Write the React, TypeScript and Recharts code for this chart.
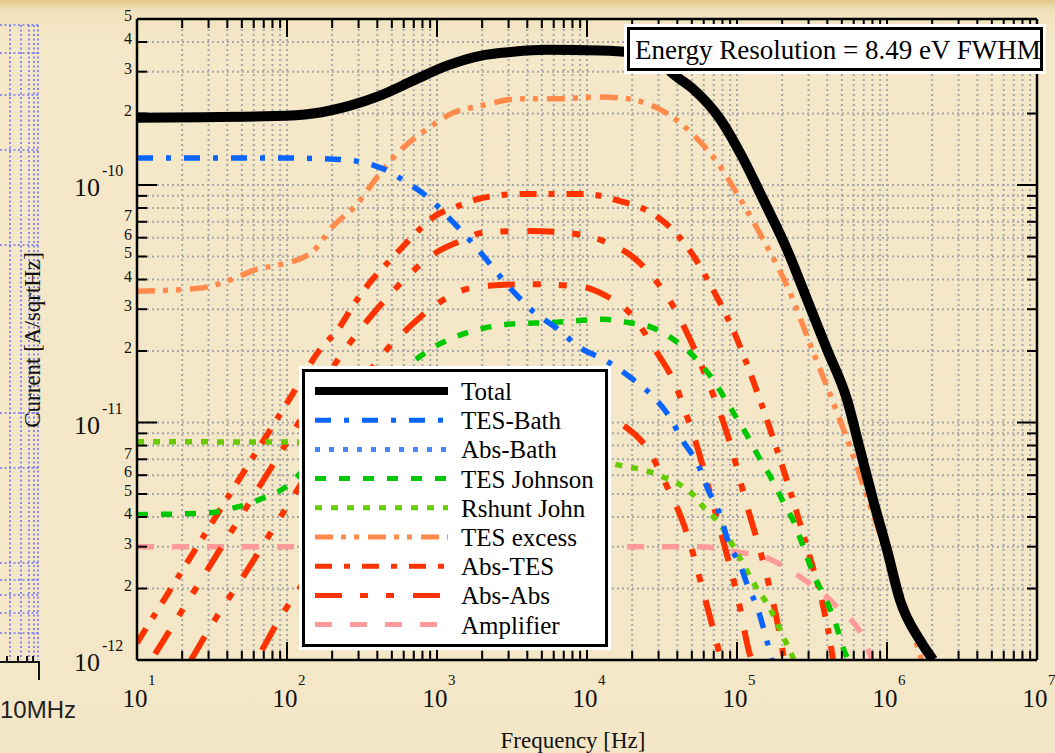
import React from "react";
import { CartesianGrid, Line, LineChart, XAxis, YAxis } from "recharts";

type Pt = { f: number; v: number };

// current noise [A/sqrtHz] against frequency [Hz]
const total: Pt[] = [
  { f: 10, v: 1.92e-10 }, { f: 83, v: 1.95e-10 }, { f: 149, v: 2.0e-10 },
  { f: 263, v: 2.16e-10 }, { f: 417, v: 2.38e-10 }, { f: 692, v: 2.75e-10 },
  { f: 1166, v: 3.18e-10 }, { f: 1936, v: 3.5e-10 }, { f: 3210, v: 3.64e-10 },
  { f: 5410, v: 3.71e-10 }, { f: 12200, v: 3.68e-10 }, { f: 19400, v: 3.61e-10 },
  { f: 30700, v: 3.3e-10 }, { f: 37400, v: 2.94e-10 }, { f: 50900, v: 2.54e-10 },
  { f: 77000, v: 1.9e-10 }, { f: 110000, v: 1.29e-10 }, { f: 149000, v: 8.73e-11 },
  { f: 215000, v: 5.37e-11 }, { f: 293000, v: 3.3e-11 }, { f: 398000, v: 2.03e-11 },
  { f: 541000, v: 1.25e-11 }, { f: 661000, v: 7.69e-12 }, { f: 807000, v: 4.73e-12 },
  { f: 1.0e6, v: 2.91e-12 }, { f: 1.22e6, v: 1.79e-12 }, { f: 1.66e6, v: 1.21e-12 },
  { f: 2.03e6, v: 1.0e-12 },
];

const tesBath: Pt[] = [
  { f: 10, v: 1.3e-10 }, { f: 90, v: 1.3e-10 }, { f: 226, v: 1.28e-10 },
  { f: 437, v: 1.17e-10 }, { f: 621, v: 1.03e-10 }, { f: 898, v: 8.73e-11 },
  { f: 1278, v: 6.98e-11 }, { f: 1793, v: 5.53e-11 }, { f: 3162, v: 3.61e-11 },
  { f: 4365, v: 2.94e-11 }, { f: 6310, v: 2.49e-11 }, { f: 8980, v: 2.07e-11 },
  { f: 13200, v: 1.83e-11 }, { f: 19400, v: 1.55e-11 }, { f: 27100, v: 1.3e-11 },
  { f: 35700, v: 1.05e-11 }, { f: 43000, v: 8.48e-12 }, { f: 55800, v: 6.52e-12 },
  { f: 64100, v: 5.22e-12 }, { f: 77000, v: 4.09e-12 }, { f: 89800, v: 3.0e-12 },
  { f: 103000, v: 2.59e-12 }, { f: 118000, v: 2.05e-12 }, { f: 138000, v: 1.63e-12 },
  { f: 158000, v: 1.21e-12 }, { f: 171000, v: 1.0e-12 },
];

// stays below the plotted range
const absBath: Pt[] = [];

const tesJohnson: Pt[] = [
  { f: 10, v: 4.09e-12 }, { f: 30.7, v: 4.17e-12 }, { f: 45, v: 4.38e-12 },
  { f: 65, v: 4.73e-12 }, { f: 92.6, v: 5.22e-12 }, { f: 166, v: 7.47e-12 },
  { f: 307, v: 1.1e-11 }, { f: 681, v: 1.79e-11 }, { f: 970, v: 2.09e-11 },
  { f: 1468, v: 2.35e-11 }, { f: 2027, v: 2.49e-11 }, { f: 2972, v: 2.59e-11 },
  { f: 6120, v: 2.64e-11 }, { f: 12800, v: 2.72e-11 }, { f: 18500, v: 2.64e-11 },
  { f: 26700, v: 2.52e-11 }, { f: 39200, v: 2.2e-11 }, { f: 54100, v: 1.84e-11 },
  { f: 72400, v: 1.45e-11 }, { f: 89800, v: 1.16e-11 }, { f: 113000, v: 9.16e-12 },
  { f: 138000, v: 7.26e-12 }, { f: 171000, v: 5.75e-12 }, { f: 203000, v: 4.64e-12 },
  { f: 244000, v: 3.71e-12 }, { f: 284000, v: 2.86e-12 }, { f: 331000, v: 2.22e-12 },
  { f: 386000, v: 1.83e-12 }, { f: 450000, v: 1.45e-12 }, { f: 517000, v: 1.1e-12 },
  { f: 550000, v: 1.0e-12 },
];

const rshuntJohn: Pt[] = [
  { f: 10, v: 8.3e-12 }, { f: 1220, v: 8.2e-12 }, { f: 4860, v: 7.6e-12 },
  { f: 16600, v: 6.6e-12 }, { f: 26300, v: 6.2e-12 }, { f: 33100, v: 5.85e-12 },
  { f: 41700, v: 5.47e-12 }, { f: 50900, v: 4.97e-12 }, { f: 60300, v: 4.38e-12 },
  { f: 74700, v: 3.82e-12 }, { f: 100000, v: 2.83e-12 }, { f: 128000, v: 2.13e-12 },
  { f: 169000, v: 1.61e-12 }, { f: 209000, v: 1.21e-12 }, { f: 240000, v: 1.0e-12 },
];

const tesExcess: Pt[] = [
  { f: 10, v: 3.57e-11 }, { f: 26.3, v: 3.68e-11 }, { f: 43, v: 4.01e-11 },
  { f: 63, v: 4.42e-11 }, { f: 92.6, v: 4.64e-11 }, { f: 147, v: 5.22e-11 },
  { f: 203, v: 6.71e-11 }, { f: 293, v: 8.31e-11 }, { f: 404, v: 1.09e-10 },
  { f: 584, v: 1.42e-10 }, { f: 858, v: 1.72e-10 }, { f: 1318, v: 2.03e-10 },
  { f: 1936, v: 2.15e-10 }, { f: 3574, v: 2.31e-10 }, { f: 6607, v: 2.31e-10 },
  { f: 12200, v: 2.35e-10 }, { f: 18500, v: 2.31e-10 }, { f: 27500, v: 2.15e-10 },
  { f: 34700, v: 1.99e-10 }, { f: 50900, v: 1.63e-10 }, { f: 73600, v: 1.25e-10 },
  { f: 105000, v: 8.73e-11 }, { f: 149000, v: 5.92e-11 }, { f: 225000, v: 3.54e-11 },
  { f: 311000, v: 2.09e-11 }, { f: 430000, v: 1.25e-11 }, { f: 575000, v: 7.69e-12 },
  { f: 771000, v: 4.47e-12 }, { f: 1.03e6, v: 2.64e-12 }, { f: 1.36e6, v: 1.59e-12 },
  { f: 1.66e6, v: 1.05e-12 }, { f: 1.7e6, v: 1.0e-12 },
];

const absTes: Pt[] = [
  { f: 10, v: 1.18e-12 }, { f: 16.6, v: 1.97e-12 }, { f: 41.7, v: 5.01e-12 },
  { f: 105, v: 1.27e-11 }, { f: 166, v: 2.03e-11 }, { f: 219, v: 2.47e-11 },
  { f: 280, v: 3.15e-11 }, { f: 363, v: 3.94e-11 }, { f: 494, v: 4.87e-11 },
  { f: 661, v: 5.92e-11 }, { f: 970, v: 7.4e-11 }, { f: 1380, v: 8.15e-11 },
  { f: 1876, v: 8.73e-11 }, { f: 3574, v: 9.16e-11 }, { f: 9700, v: 9.16e-11 },
  { f: 16600, v: 8.56e-11 }, { f: 26300, v: 7.69e-11 }, { f: 37400, v: 6.46e-11 },
  { f: 50900, v: 5.07e-11 }, { f: 66100, v: 3.82e-11 }, { f: 97000, v: 2.35e-11 },
  { f: 142000, v: 1.25e-11 }, { f: 209000, v: 6.03e-12 }, { f: 288000, v: 3.09e-12 },
  { f: 386000, v: 1.55e-12 }, { f: 417000, v: 1.21e-12 }, { f: 437000, v: 1.0e-12 },
];

const absAbsA: Pt[] = [
  { f: 13.2, v: 1.06e-12 }, { f: 19.3, v: 1.56e-12 }, { f: 34.7, v: 2.83e-12 },
  { f: 52.5, v: 4.3e-12 }, { f: 89.8, v: 7.4e-12 }, { f: 244, v: 2.03e-11 },
  { f: 357, v: 2.77e-11 }, { f: 494, v: 3.5e-11 }, { f: 681, v: 4.3e-11 },
  { f: 1000, v: 5.22e-11 }, { f: 1422, v: 5.8e-11 }, { f: 2123, v: 6.34e-11 },
  { f: 4169, v: 6.4e-11 }, { f: 9700, v: 6.15e-11 }, { f: 14200, v: 5.64e-11 },
  { f: 20300, v: 4.97e-11 }, { f: 27500, v: 4.09e-11 }, { f: 36900, v: 3.15e-11 },
  { f: 48600, v: 2.24e-11 }, { f: 62100, v: 1.56e-11 }, { f: 88400, v: 8.48e-12 },
  { f: 115000, v: 4.6e-12 }, { f: 156000, v: 2.33e-12 }, { f: 196000, v: 1.21e-12 },
  { f: 206000, v: 1.0e-12 },
];

const absAbsB: Pt[] = [
  { f: 22.9, v: 1.0e-12 }, { f: 31.6, v: 1.41e-12 }, { f: 56.7, v: 2.49e-12 },
  { f: 89.8, v: 3.97e-12 }, { f: 194, v: 8.65e-12 }, { f: 417, v: 1.88e-11 },
  { f: 631, v: 2.47e-11 }, { f: 955, v: 3.09e-11 }, { f: 1422, v: 3.57e-11 },
  { f: 1995, v: 3.75e-11 }, { f: 4169, v: 3.82e-11 }, { f: 8710, v: 3.75e-11 },
  { f: 13200, v: 3.43e-11 }, { f: 19600, v: 2.86e-11 }, { f: 28400, v: 2.03e-11 },
  { f: 39200, v: 1.42e-11 }, { f: 45700, v: 1.09e-11 }, { f: 55000, v: 7.69e-12 },
  { f: 64100, v: 5.42e-12 }, { f: 83200, v: 2.97e-12 }, { f: 102000, v: 1.79e-12 },
  { f: 122000, v: 1.05e-12 }, { f: 125000, v: 1.0e-12 },
];

const absAbsC: Pt[] = [
  { f: 68.1, v: 1.1e-12 }, { f: 92.6, v: 1.55e-12 }, { f: 122, v: 2.01e-12 },
  { f: 771, v: 1.03e-11 }, { f: 2630, v: 1.13e-11 }, { f: 8970, v: 1.11e-11 },
  { f: 13200, v: 1.05e-11 }, { f: 17900, v: 9.62e-12 }, { f: 25500, v: 7.69e-12 },
  { f: 34200, v: 5.37e-12 }, { f: 43700, v: 3.79e-12 }, { f: 50100, v: 2.91e-12 },
  { f: 58400, v: 2.03e-12 }, { f: 68100, v: 1.41e-12 }, { f: 75900, v: 1.08e-12 },
  { f: 78000, v: 1.0e-12 },
];

const amplifier: Pt[] = [
  { f: 10, v: 3.0e-12 }, { f: 56700, v: 3.0e-12 }, { f: 97000, v: 2.86e-12 },
  { f: 158000, v: 2.69e-12 }, { f: 263000, v: 2.24e-12 }, { f: 457000, v: 1.69e-12 },
  { f: 736000, v: 1.14e-12 }, { f: 790000, v: 1.0e-12 },
];

const X_DECADES = [1, 2, 3, 4, 5, 6];
const Y_DECADES = [-12, -11, -10];
const MANTISSAS = [1, 2, 3, 4, 5, 6, 7, 8, 9];
const X_TICKS = [...X_DECADES.flatMap((d) => MANTISSAS.map((m) => m * 10 ** d)), 1e7];
const Y_TICKS = Y_DECADES.flatMap((d) => MANTISSAS.map((m) => m * 10 ** d)).filter(
  (v) => v <= 5.0001e-10
);

const SERIF = '"Liberation Serif", "Times New Roman", serif';

const SERIES = [
  { name: "Total", data: total, color: "#000000", width: 10, dash: undefined },
  { name: "TES-Bath", data: tesBath, color: "#0a64ff", width: 5.5, dash: "16 13 5 13" },
  { name: "Abs-Bath", data: absBath, color: "#4a86ff", width: 5.5, dash: "5 9" },
  { name: "TES Johnson", data: tesJohnson, color: "#00c800", width: 5.5, dash: "11 13" },
  { name: "Rshunt John", data: rshuntJohn, color: "#66cc00", width: 5.5, dash: "7 9" },
  { name: "TES excess", data: tesExcess, color: "#ff8a4c", width: 5.5, dash: "18 8 5 8 5 9" },
  { name: "Abs-TES", data: absTes, color: "#ff3300", width: 6, dash: "17 12 6 12" },
  { name: "Abs-Abs", data: absAbsA, color: "#ff3300", width: 6, dash: "27 18 8 18 8 19" },
  { name: "Amplifier", data: amplifier, color: "#ff9a9a", width: 5.5, dash: "17 18" },
];

// the other absorber curves share the Abs-Abs style and legend entry
const EXTRA_ABS = [absAbsB, absAbsC];

function decade(v: number) {
  const e = Math.floor(Math.log10(v) + 1e-9);
  return { e, m: Math.round(v / 10 ** e) };
}

function BottomTick({ x, y, payload }: any) {
  const { e, m } = decade(payload.value);
  const major = m === 1;
  return (
    <g>
      <line x1={x} x2={x} y1={y} y2={y - (major ? 18 : 9)} stroke="#000" strokeWidth={2} />
      {major && (
        <>
          <text x={x - 2} y={y + 47} textAnchor="middle" fontSize={25} fontFamily={SERIF} fill="#111">
            10
          </text>
          <text x={x + 11} y={y + 25} fontSize={15} fontFamily={SERIF} fill="#111">
            {e}
          </text>
        </>
      )}
    </g>
  );
}

function TopTick({ x, y, payload }: any) {
  const { m } = decade(payload.value);
  return <line x1={x} x2={x} y1={y} y2={y + (m === 1 ? 18 : 9)} stroke="#000" strokeWidth={2} />;
}

function LeftTick({ x, y, payload }: any) {
  const { e, m } = decade(payload.value);
  const major = m === 1;
  return (
    <g>
      <line x1={x} x2={x + (major ? 20 : 10)} y1={y} y2={y} stroke="#000" strokeWidth={2} />
      {major ? (
        <>
          <text x={x - 37} y={y + 11} textAnchor="end" fontSize={26} fontFamily={SERIF} fill="#111">
            10
          </text>
          <text x={x - 35} y={y - 9} fontSize={16} fontFamily={SERIF} fill="#111">
            {e}
          </text>
        </>
      ) : m <= 7 ? (
        <text
          x={x - 5}
          y={y + (m === 7 ? -0.5 : 2)}
          textAnchor="end"
          fontSize={16}
          fontFamily={SERIF}
          fill="#111"
        >
          {m}
        </text>
      ) : null}
    </g>
  );
}

function RightTick({ x, y, payload }: any) {
  const { m } = decade(payload.value);
  return <line x1={x} x2={x - (m === 1 ? 20 : 10)} y1={y} y2={y} stroke="#000" strokeWidth={2} />;
}

const AXIS_LINE = { stroke: "#000", strokeWidth: 2.5 };

// pieces of the neighbouring slide figure on the left edge
const SIDE_H = [25, 53, 95, 150, 245, 413, 468, 563, 580, 595, 613, 633];
const SIDE_V = [10, 21, 29, 34, 38];

export default function App() {
  return (
    <div
      style={{
        position: "absolute",
        left: 0,
        top: 0,
        width: 1055,
        height: 753,
        overflow: "hidden",
        background:
          "linear-gradient(180deg, #e2c98a 0px, #ead5a0 5px, #f1e2bd 10px, #f4e8c9 40px, #f3e7c7 100%)",
      }}
    >
      <svg width={110} height={753} style={{ position: "absolute", left: 0, top: 0 }}>
        {SIDE_H.map((y) => (
          <line key={"h" + y} x1={0} x2={39} y1={y} y2={y} stroke="#7272ff" strokeWidth={1.6} strokeDasharray="2 2.5" />
        ))}
        {SIDE_V.map((x) => (
          <line key={"v" + x} x1={x} x2={x} y1={25} y2={660} stroke="#7272ff" strokeWidth={1.6} strokeDasharray="2 2.5" />
        ))}
        <line x1={0} x2={40} y1={662} y2={662} stroke="#111" strokeWidth={2} />
        {[7, 18, 27, 33].map((x) => (
          <line key={"t" + x} x1={x} x2={x} y1={662} y2={656} stroke="#111" strokeWidth={2} />
        ))}
        <line x1={39} x2={39} y1={662} y2={680} stroke="#111" strokeWidth={2} />
        <text x={0} y={718} fontSize={24} fontFamily='"Liberation Sans", Arial, sans-serif' fill="#222">
          10MHz
        </text>
      </svg>

      <div style={{ position: "absolute", left: 0, top: 0 }}>
        <LineChart width={1055} height={753} margin={{ top: 15, right: 10, bottom: 33, left: 77 }}>
          <CartesianGrid
            xAxisId="bottom"
            yAxisId="left"
            stroke="#a8a8a8"
            strokeWidth={2}
            strokeDasharray="2 3"
          />
          <XAxis
            xAxisId="bottom"
            dataKey="f"
            type="number"
            scale="log"
            domain={[10, 1e7]}
            allowDataOverflow
            ticks={X_TICKS}
            interval={0}
            tickSize={0}
            tickMargin={0}
            tickLine={false}
            axisLine={AXIS_LINE}
            tick={(p: any) => <BottomTick {...p} />}
            height={60}
          />
          <XAxis
            xAxisId="top"
            orientation="top"
            dataKey="f"
            type="number"
            scale="log"
            domain={[10, 1e7]}
            allowDataOverflow
            ticks={X_TICKS}
            interval={0}
            tickSize={0}
            tickMargin={0}
            tickLine={false}
            axisLine={AXIS_LINE}
            tick={(p: any) => <TopTick {...p} />}
            height={4}
          />
          <YAxis
            yAxisId="left"
            dataKey="v"
            type="number"
            scale="log"
            domain={[1e-12, 5e-10]}
            allowDataOverflow
            ticks={Y_TICKS}
            interval={0}
            tickSize={0}
            tickMargin={0}
            tickLine={false}
            axisLine={AXIS_LINE}
            tick={(p: any) => <LeftTick {...p} />}
            width={60}
          />
          <YAxis
            yAxisId="right"
            orientation="right"
            dataKey="v"
            type="number"
            scale="log"
            domain={[1e-12, 5e-10]}
            allowDataOverflow
            ticks={Y_TICKS}
            interval={0}
            tickSize={0}
            tickMargin={0}
            tickLine={false}
            axisLine={AXIS_LINE}
            tick={(p: any) => <RightTick {...p} />}
            width={8}
          />
          {EXTRA_ABS.map((d, i) => (
            <Line
              key={"extra" + i}
              xAxisId="bottom"
              yAxisId="left"
              data={d}
              dataKey="v"
              type="monotone"
              stroke="#ff3300"
              strokeWidth={6}
              strokeDasharray="27 18 8 18 8 19"
              dot={false}
              activeDot={false}
              isAnimationActive={false}
            />
          ))}
          {SERIES.slice()
            .reverse()
            .map((s) => (
              <Line
                key={s.name}
                name={s.name}
                xAxisId="bottom"
                yAxisId="left"
                data={s.data}
                dataKey="v"
                type="monotone"
                stroke={s.color}
                strokeWidth={s.width}
                strokeDasharray={s.dash}
                dot={false}
                activeDot={false}
                isAnimationActive={false}
              />
            ))}
        </LineChart>
      </div>

      <svg width={1055} height={753} style={{ position: "absolute", left: 0, top: 0, pointerEvents: "none" }}>
        <text x={573} y={748} textAnchor="middle" fontSize={23} fontFamily={SERIF} fill="#111">
          Frequency [Hz]
        </text>
        <text
          transform="translate(40 340) rotate(-90)"
          textAnchor="middle"
          fontSize={23}
          fontFamily={SERIF}
          fill="#111"
        >
          Current [A/sqrtHz]
        </text>

        <rect x={299} y={366} width={312} height={284} fill="#fff" />
        <rect x={303.5} y={370.5} width={303} height={275} fill="#fff" stroke="#000" strokeWidth={3} />
        {SERIES.map((s, i) => {
          const y = 391 + i * 29.2;
          return (
            <g key={s.name}>
              <line
                x1={315}
                x2={448}
                y1={y}
                y2={y}
                stroke={s.color}
                strokeWidth={s.name === "Total" ? 8 : 5}
                strokeDasharray={s.dash}
              />
              <text x={461} y={y + 9} fontSize={25} fontFamily={SERIF} fill="#000">
                {s.name}
              </text>
            </g>
          );
        })}

        <rect x={624} y={24} width={422} height={50} fill="#fff" />
        <rect x={628.5} y={28.5} width={413} height={41} fill="#fff" stroke="#000" strokeWidth={3} />
        <text x={635} y={59} fontSize={27} fontFamily={SERIF} fill="#000">
          Energy Resolution = 8.49 eV FWHM
        </text>
      </svg>
    </div>
  );
}
